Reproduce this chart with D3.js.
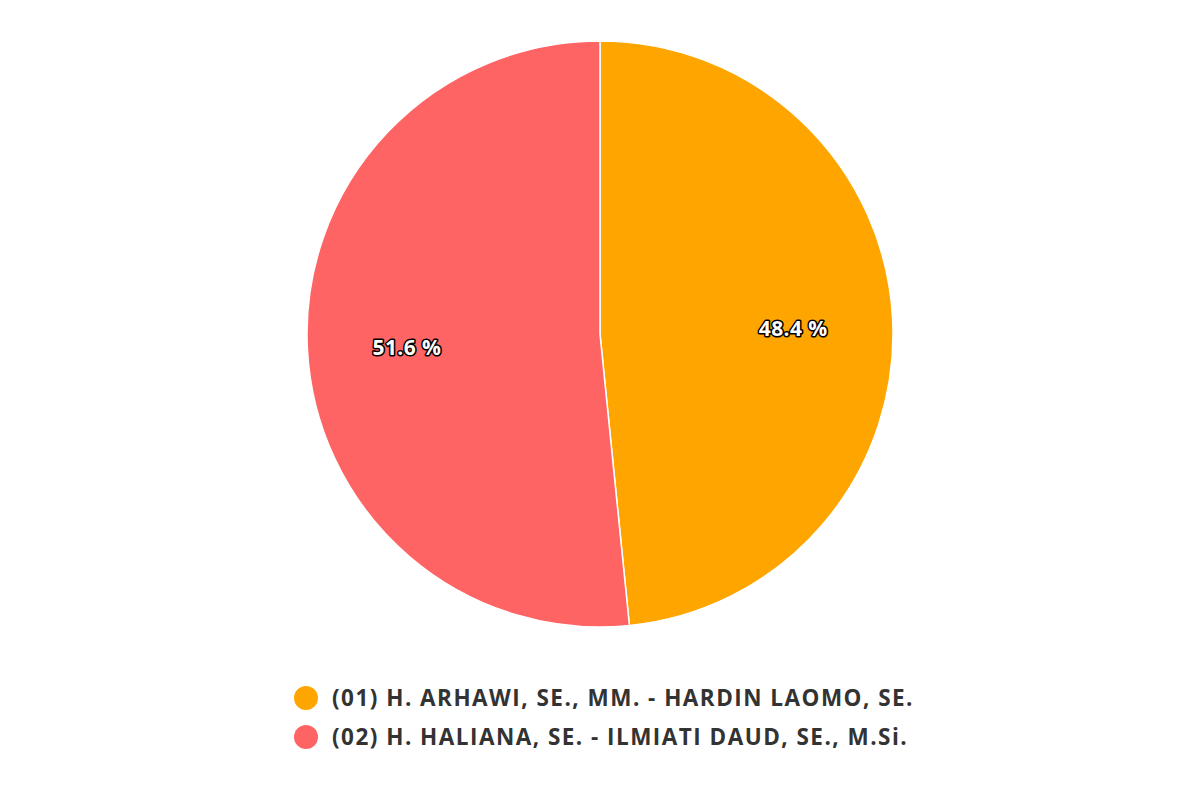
<!DOCTYPE html>
<html><head><meta charset="utf-8">
<script src="https://cdn.jsdelivr.net/npm/d3@7"></script>
<style>body{margin:0;background:#fff;} svg{display:block;}</style>
</head><body>
<svg id="chart" width="1200" height="800"></svg>
<script>
const categories = ["(01) H. ARHAWI, SE., MM. - HARDIN LAOMO, SE.", "(02) H. HALIANA, SE. - ILMIATI DAUD, SE., M.Si."];
const values = [48.4, 51.6];
const colors = ["#FFA500", "#FF6464"];

const svg = d3.select("#chart");
const cx = 600, cy = 334, r = 293;
const pie = d3.pie().sort(null).value(d => d);
const arcs = pie(values);
const arc = d3.arc().innerRadius(0).outerRadius(r);
const labelArc = d3.arc().innerRadius(r * 0.66).outerRadius(r * 0.66);
const g = svg.append("g").attr("transform", `translate(${cx},${cy})`);
g.selectAll("path").data(arcs).join("path")
  .attr("d", arc).attr("fill", (d, i) => colors[i])
  .attr("stroke", "#fff").attr("stroke-width", 1.5).attr("stroke-linejoin", "round");
g.selectAll("text").data(arcs).join("text")
  .attr("transform", d => { const c = labelArc.centroid(d); return `translate(${c[0]},${c[1] + 4})`; })
  .attr("text-anchor", "middle").attr("dy", "0.35em")
  .attr("font-family", "'Open Sans', sans-serif").attr("font-weight", "bold").attr("font-size", 21)
  .attr("letter-spacing", 0.4)
  .attr("fill", "#fff").attr("stroke", "#000").attr("stroke-width", 3).attr("stroke-linejoin", "round")
  .attr("paint-order", "stroke")
  .text(d => d.data.toFixed(1) + " %");

const leg = svg.append("g");
const items = leg.selectAll("g").data(categories).join("g")
  .attr("transform", (d, i) => `translate(306,${698 + i * 39})`);
items.append("circle").attr("r", 12).attr("fill", (d, i) => colors[i]);
const lt = items.append("text").attr("x", 26).attr("dy", "0.35em")
  .attr("font-family", "'Open Sans', sans-serif").attr("font-weight", "bold").attr("font-size", 22.5)
  .attr("fill", "#333").text(d => d);
// fit first legend line to reference width via letter spacing
const targetW = 582;
const w0 = lt.nodes()[0].getComputedTextLength();
const ls = (targetW - w0) / categories[0].length;
lt.attr("letter-spacing", ls);
</script>
</body></html>
